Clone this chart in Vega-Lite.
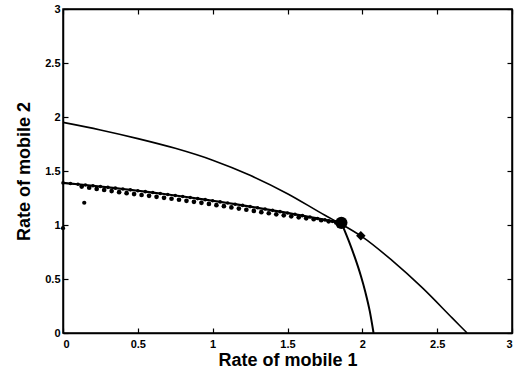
{
  "$schema": "https://vega.github.io/schema/vega-lite/v6.json",
  "width": 449,
  "height": 324,
  "autosize": "none",
  "padding": {"left": 63, "top": 9, "right": 10, "bottom": 43},
  "background": "white",
  "config": {
    "view": {"stroke": "black", "strokeWidth": 1.5},
    "axis": {
      "grid": false,
      "domainColor": "black",
      "domainWidth": 1.5,
      "tickColor": "black",
      "tickWidth": 1.2,
      "labelColor": "black",
      "titleColor": "black",
      "labelFont": "Liberation Sans",
      "titleFont": "Liberation Sans",
      "labelFontSize": 11,
      "labelFontWeight": "bold",
      "titleFontSize": 18,
      "titleFontWeight": "bold",
      "tickSize": -5
    }
  },
  "datasets": {
    "outer": [
      {"x": 0, "y": 1.95}, {"x": 0.25, "y": 1.88}, {"x": 0.5, "y": 1.8},
      {"x": 0.75, "y": 1.71}, {"x": 1.0, "y": 1.6}, {"x": 1.25, "y": 1.46},
      {"x": 1.5, "y": 1.29}, {"x": 1.75, "y": 1.09}, {"x": 1.87, "y": 1.0},
      {"x": 2.0, "y": 0.89}, {"x": 2.2, "y": 0.67}, {"x": 2.4, "y": 0.42},
      {"x": 2.6, "y": 0.14}, {"x": 2.7, "y": 0.0}
    ],
    "inner": [
      {"x": 1.86, "y": 1.02}, {"x": 1.91, "y": 0.85}, {"x": 1.95, "y": 0.7},
      {"x": 1.99, "y": 0.53}, {"x": 2.02, "y": 0.38}, {"x": 2.05, "y": 0.2},
      {"x": 2.075, "y": 0.0}
    ],
    "upper": [
      {"x": 0, "y": 1.39}, {"x": 0.05, "y": 1.3836}, {"x": 0.1, "y": 1.3771},
      {"x": 0.15, "y": 1.3703}, {"x": 0.2, "y": 1.3634}, {"x": 0.25, "y": 1.3562},
      {"x": 0.3, "y": 1.3488}, {"x": 0.35, "y": 1.3413}, {"x": 0.4, "y": 1.3335},
      {"x": 0.45, "y": 1.3255}, {"x": 0.5, "y": 1.3173}, {"x": 0.55, "y": 1.309},
      {"x": 0.6, "y": 1.3004}, {"x": 0.65, "y": 1.2916}, {"x": 0.7, "y": 1.2826},
      {"x": 0.75, "y": 1.2734}, {"x": 0.8, "y": 1.2641}, {"x": 0.85, "y": 1.2545},
      {"x": 0.9, "y": 1.2447}, {"x": 0.95, "y": 1.2347}, {"x": 1.0, "y": 1.2245},
      {"x": 1.05, "y": 1.2141}, {"x": 1.1, "y": 1.2035}, {"x": 1.15, "y": 1.1927},
      {"x": 1.2, "y": 1.1817}, {"x": 1.25, "y": 1.1705}, {"x": 1.3, "y": 1.1591},
      {"x": 1.35, "y": 1.1475}, {"x": 1.4, "y": 1.1357}, {"x": 1.45, "y": 1.1237},
      {"x": 1.5, "y": 1.1115}, {"x": 1.55, "y": 1.099}, {"x": 1.6, "y": 1.0864},
      {"x": 1.65, "y": 1.0736}, {"x": 1.7, "y": 1.0606}, {"x": 1.75, "y": 1.0474},
      {"x": 1.8, "y": 1.0339}, {"x": 1.85, "y": 1.0203}
    ],
    "lower": [
      {"x": 0.125, "y": 1.356}, {"x": 0.175, "y": 1.345}, {"x": 0.225, "y": 1.334},
      {"x": 0.275, "y": 1.324}, {"x": 0.325, "y": 1.314}, {"x": 0.375, "y": 1.304},
      {"x": 0.425, "y": 1.295}, {"x": 0.475, "y": 1.286}, {"x": 0.525, "y": 1.278},
      {"x": 0.575, "y": 1.27}, {"x": 0.625, "y": 1.261}, {"x": 0.675, "y": 1.252},
      {"x": 0.725, "y": 1.243}, {"x": 0.775, "y": 1.234}, {"x": 0.825, "y": 1.224},
      {"x": 0.875, "y": 1.215}, {"x": 0.925, "y": 1.205}, {"x": 0.975, "y": 1.195},
      {"x": 1.025, "y": 1.184}, {"x": 1.075, "y": 1.174}, {"x": 1.125, "y": 1.163},
      {"x": 1.175, "y": 1.152}, {"x": 1.225, "y": 1.141}, {"x": 1.275, "y": 1.13},
      {"x": 1.325, "y": 1.119}, {"x": 1.375, "y": 1.109}, {"x": 1.425, "y": 1.099},
      {"x": 1.475, "y": 1.09}, {"x": 1.525, "y": 1.08}, {"x": 1.575, "y": 1.071},
      {"x": 1.625, "y": 1.062}, {"x": 1.675, "y": 1.053}, {"x": 1.725, "y": 1.044},
      {"x": 1.775, "y": 1.034}, {"x": 1.825, "y": 1.024}
    ],
    "strays": [
      {"x": 0.0, "y": 0.97}, {"x": 0.142, "y": 1.206}
    ],
    "optimum": [{"x": 1.86, "y": 1.02}],
    "corner": [{"x": 1.99, "y": 0.9}]
  },
  "resolve": {"axis": {"x": "independent", "y": "independent"}},
  "layer": [
    {
      "data": {"name": "outer"},
      "mark": {"type": "line", "color": "black", "strokeWidth": 1.6, "interpolate": "monotone"},
      "encoding": {
        "x": {"field": "x", "type": "quantitative", "scale": {"domain": [0, 3], "nice": false},
              "axis": {"title": "Rate of mobile 1", "values": [0, 0.5, 1, 1.5, 2, 2.5, 3], "labelPadding": 10, "titlePadding": 2, "format": "~g"}},
        "y": {"field": "y", "type": "quantitative", "scale": {"domain": [0, 3], "nice": false},
              "axis": {"title": "Rate of mobile 2", "values": [0, 0.5, 1, 1.5, 2, 2.5, 3], "labelPadding": 8, "titlePadding": 11, "format": "~g"}}
      }
    },
    {
      "data": {"name": "outer"},
      "mark": {"type": "line", "opacity": 0},
      "encoding": {
        "x": {"field": "x", "type": "quantitative",
              "axis": {"orient": "top", "title": null, "labels": false, "values": [0, 0.5, 1, 1.5, 2, 2.5, 3]}},
        "y": {"field": "y", "type": "quantitative",
              "axis": {"orient": "right", "title": null, "labels": false, "values": [0, 0.5, 1, 1.5, 2, 2.5, 3]}}
      }
    },
    {
      "data": {"name": "inner"},
      "mark": {"type": "line", "color": "black", "strokeWidth": 2, "interpolate": "monotone"},
      "encoding": {
        "x": {"field": "x", "type": "quantitative", "axis": null},
        "y": {"field": "y", "type": "quantitative", "axis": null}
      }
    },
    {
      "data": {"name": "upper"},
      "mark": {"type": "line", "color": "black", "strokeWidth": 2.2},
      "encoding": {
        "x": {"field": "x", "type": "quantitative", "axis": null},
        "y": {"field": "y", "type": "quantitative", "axis": null}
      }
    },
    {
      "data": {"name": "upper"},
      "mark": {"type": "circle", "color": "black", "opacity": 1, "size": 13},
      "encoding": {
        "x": {"field": "x", "type": "quantitative", "axis": null},
        "y": {"field": "y", "type": "quantitative", "axis": null}
      }
    },
    {
      "data": {"name": "lower"},
      "mark": {"type": "circle", "color": "black", "opacity": 1, "size": 22},
      "encoding": {
        "x": {"field": "x", "type": "quantitative", "axis": null},
        "y": {"field": "y", "type": "quantitative", "axis": null}
      }
    },
    {
      "data": {"name": "strays"},
      "mark": {"type": "circle", "color": "black", "opacity": 1, "size": 18},
      "encoding": {
        "x": {"field": "x", "type": "quantitative", "axis": null},
        "y": {"field": "y", "type": "quantitative", "axis": null}
      }
    },
    {
      "data": {"name": "optimum"},
      "mark": {"type": "circle", "color": "black", "opacity": 1, "size": 150},
      "encoding": {
        "x": {"field": "x", "type": "quantitative", "axis": null},
        "y": {"field": "y", "type": "quantitative", "axis": null}
      }
    },
    {
      "data": {"name": "corner"},
      "mark": {"type": "point", "shape": "diamond", "filled": true, "color": "black", "opacity": 1, "size": 90},
      "encoding": {
        "x": {"field": "x", "type": "quantitative", "axis": null},
        "y": {"field": "y", "type": "quantitative", "axis": null}
      }
    }
  ]
}
